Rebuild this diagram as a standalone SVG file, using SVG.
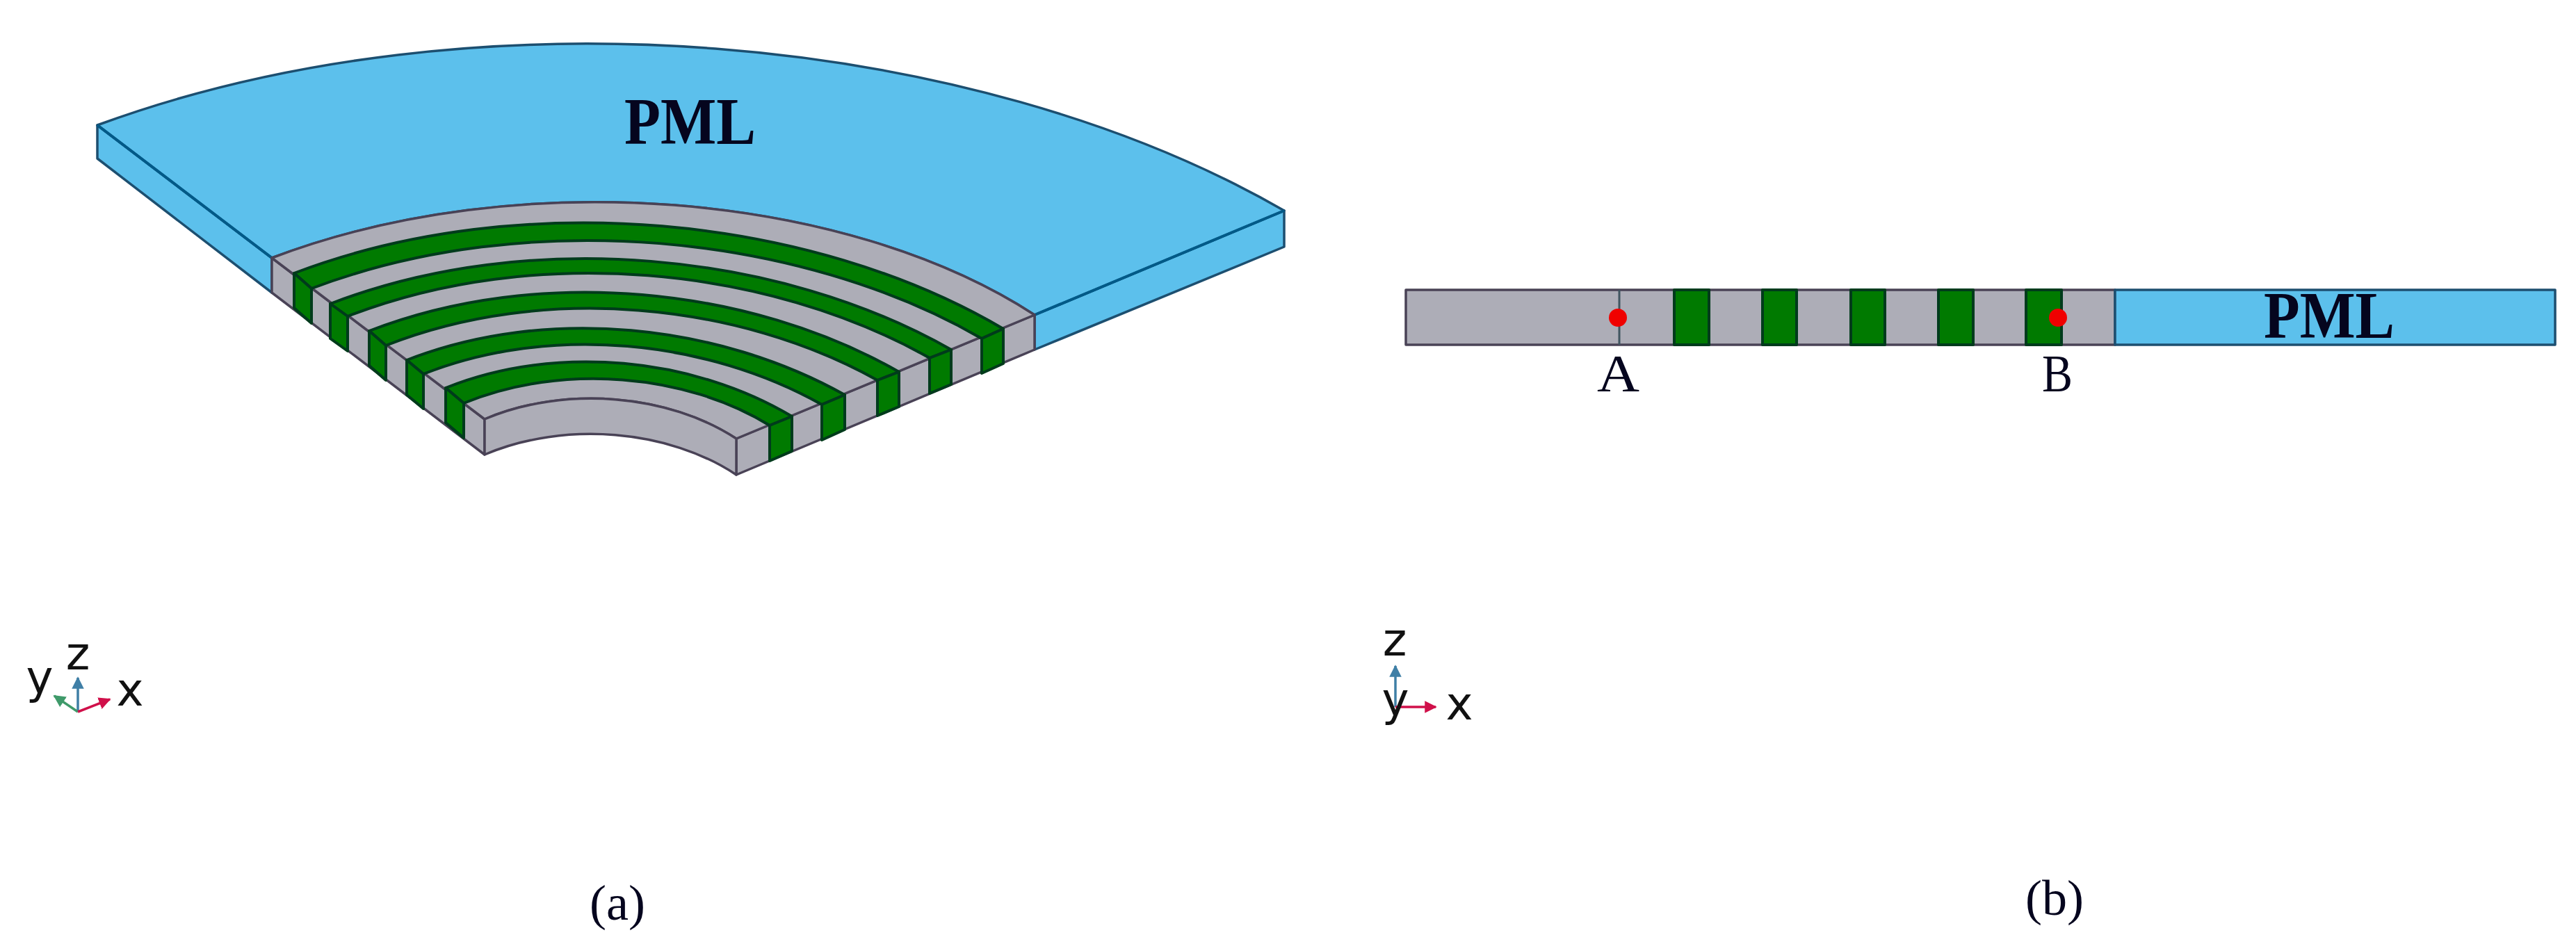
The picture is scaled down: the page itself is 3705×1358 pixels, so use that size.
<svg xmlns="http://www.w3.org/2000/svg" width="3705" height="1358" viewBox="0 0 3705 1358">
<defs>
<style>
.bl{fill:#5cc0ec;stroke:#1f4f70;stroke-width:3.5;stroke-linejoin:round}
.gr{fill:#adadb7;stroke:#4a4356;stroke-width:3.5;stroke-linejoin:round}
.gn{fill:#007a00;stroke:#003a1a;stroke-width:4;stroke-linejoin:round}
.ed{fill:none;stroke:#3f5560;stroke-width:3}
.rd{fill:none;stroke:#005a88;stroke-width:4}
.ser{font-family:"Liberation Serif","Times New Roman",serif;fill:#05051e}
.pml{font-size:95px;font-weight:bold}
.pt{font-size:77px}
.cap{font-size:72px;text-anchor:middle}
.ax{font-family:"DejaVu Sans",sans-serif;font-size:66px;fill:#111;text-anchor:middle}
.dot{fill:#f00000}
.soft{filter:url(#sf)}
</style>
<filter id="sf" x="-5%" y="-5%" width="110%" height="110%"><feGaussianBlur stdDeviation="0.5"/></filter>
<marker id="ab" viewBox="0 0 10 10" refX="9" refY="5" markerWidth="5" markerHeight="5" orient="auto"><path d="M0 0L10 5L0 10Z" fill="#3f7fa6"/></marker>
<marker id="ag" viewBox="0 0 10 10" refX="9" refY="5" markerWidth="5" markerHeight="5" orient="auto"><path d="M0 0L10 5L0 10Z" fill="#3f9a6a"/></marker>
<marker id="ar" viewBox="0 0 10 10" refX="9" refY="5" markerWidth="5" markerHeight="5" orient="auto"><path d="M0 0L10 5L0 10Z" fill="#d0104a"/></marker>
</defs>
<rect width="3705" height="1358" fill="#fff"/>
<g id="view-a" class="soft">
<g id="pml-a">
<path class="bl" d="M140 180L391 371V421L140 228Z"/>
<path class="bl" d="M1488 453L1847 303V355L1488 503Z"/>
<path class="bl" d="M140 180C682 -19.2 1400 45 1847 303L1488 453C1215 275.5 743.9 236.8 391 371Z"/>
<path class="rd" d="M140 180L391 371M1488 453L1847 303"/>
</g>
<g id="core-a">
<path class="gr" d="M391 371L697 603V654L391 421Z"/>
<path class="gr" d="M1059 631L1488 453V503L1059 683Z"/>
<path class="gr" d="M391 371C743.9 236.8 1215 275.5 1488 453L1059 631C962.5 567.4 812.4 553.8 697 603Z"/>
<path class="gr" d="M697 603C812.4 553.8 962.5 567.4 1059 631V683C962.5 618.4 812.4 604.8 697 654Z"/>
</g>
<g id="bands-a">
<path class="gn" d="M423 393C750.5 268.5 1167.2 310.3 1443 473L1412 487C1150 335.6 758.4 297.4 448 415Z"/>
<path class="gn" d="M475 437C761.1 326.7 1120.9 362.3 1368 503L1337 515C1103.7 383.2 769 350.3 500 455Z"/>
<path class="gn" d="M531 476C775.7 381 1078.8 412.4 1293 535L1262 547C1061.1 434.9 782.5 407.5 555 497Z"/>
<path class="gn" d="M585 518C786.6 439 1033.6 466.4 1215 568L1182 582C1016.9 489.3 792.4 465.6 609 538Z"/>
<path class="gn" d="M641 558C800.6 493.6 998.6 515 1139 599L1107 612C987.9 538.1 808.9 521.7 667 580Z"/>
<path class="gn" d="M423 393L448 415V465L423 443Z"/>
<path class="gn" d="M475 437L500 455V505L475 487Z"/>
<path class="gn" d="M531 476L555 497V547L531 526Z"/>
<path class="gn" d="M585 518L609 538V588L585 568Z"/>
<path class="gn" d="M641 558L667 580V630L641 608Z"/>
<path class="gn" d="M1107 612L1139 599V649L1107 663Z"/>
<path class="gn" d="M1182 582L1215 568V618L1182 633Z"/>
<path class="gn" d="M1262 547L1293 535V585L1262 598Z"/>
<path class="gn" d="M1337 515L1368 503V553L1337 566Z"/>
<path class="gn" d="M1412 487L1443 473V523L1412 537Z"/>
</g>
</g>
<g id="view-b" class="soft">
<rect id="core-b" class="gr" x="2022" y="417" width="1020" height="79"/>
<rect id="pml-b" class="bl" x="3042" y="417" width="633" height="79"/>
<path class="ed" d="M2329 417V496"/>
<rect class="gn" x="2408" y="417" width="50" height="79"/>
<rect class="gn" x="2535" y="417" width="49" height="79"/>
<rect class="gn" x="2662" y="417" width="49" height="79"/>
<rect class="gn" x="2788" y="417" width="50" height="79"/>
<rect class="gn" x="2914" y="417" width="51" height="79"/>
<circle id="point-a" class="dot" cx="2327" cy="457" r="13"/>
<circle id="point-b" class="dot" cx="2960" cy="457" r="13"/>
</g>
<g id="labels">
<text class="ser pml" x="898" y="207" textLength="189" lengthAdjust="spacingAndGlyphs">PML</text>
<text class="ser pml" x="3256" y="486" textLength="188" lengthAdjust="spacingAndGlyphs">PML</text>
<text class="ser pt" x="2297" y="563" textLength="61" lengthAdjust="spacingAndGlyphs">A</text>
<text class="ser pt" x="2937" y="563" textLength="44" lengthAdjust="spacingAndGlyphs">B</text>
<text class="ser cap" x="888" y="1323">(a)</text>
<text class="ser cap" x="2955" y="1316">(b)</text>
</g>
<g id="connectors" fill="none" stroke-width="3.5">
<path stroke="#3f7fa6" marker-end="url(#ab)" d="M112 1024V975"/>
<path stroke="#3f9a6a" marker-end="url(#ag)" d="M112 1024L78 1001"/>
<path stroke="#d0104a" marker-end="url(#ar)" d="M112 1024L158 1006"/>
<path stroke="#3f7fa6" marker-end="url(#ab)" d="M2007 1017V958"/>
<path stroke="#d0104a" marker-end="url(#ar)" d="M2007 1017H2065"/>
</g>
<g id="axes-labels">
<text class="ax" x="112" y="963">z</text>
<text class="ax" x="57" y="997">y</text>
<text class="ax" x="187" y="1015">x</text>
<text class="ax" x="2006" y="943">z</text>
<text class="ax" x="2007" y="1029">y</text>
<text class="ax" x="2099" y="1035">x</text>
</g>
</svg>
